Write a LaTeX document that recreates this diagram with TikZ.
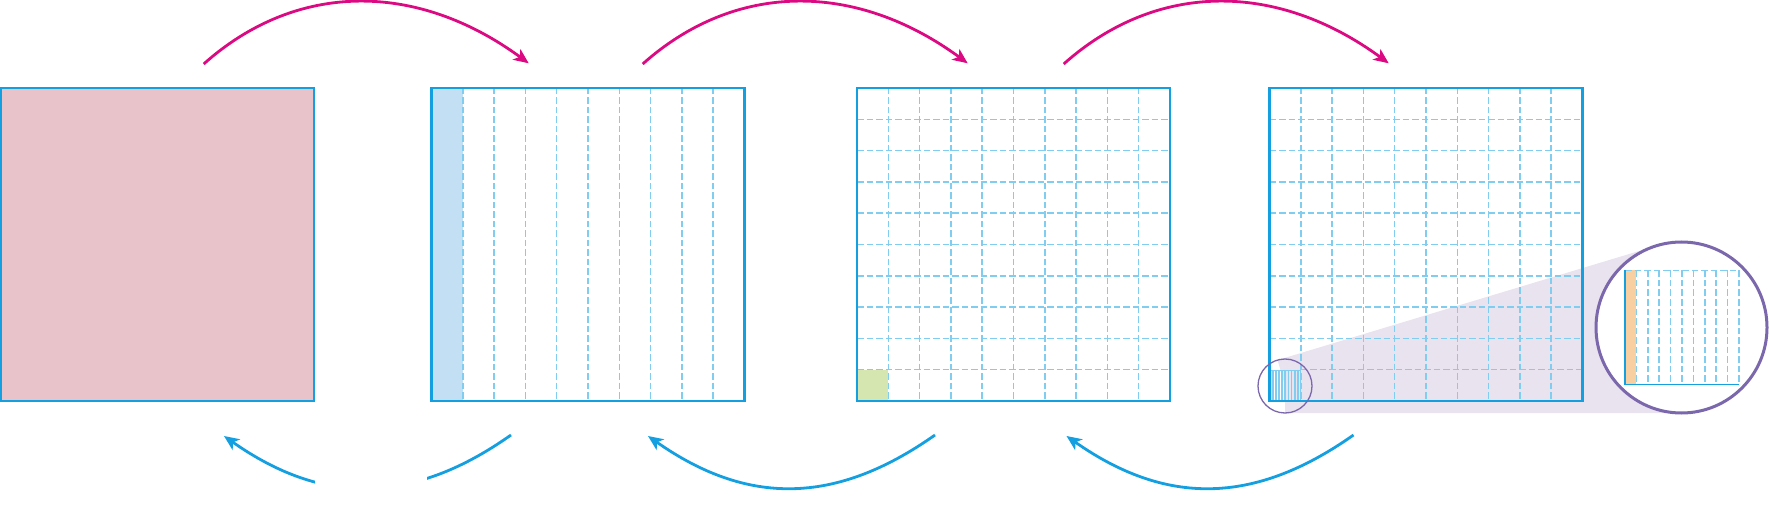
\documentclass[tikz,border=0pt]{standalone}
\usetikzlibrary{arrows.meta}
\definecolor{sqblue}{HTML}{139FE0}
\definecolor{dashblue}{HTML}{80CDF0}
\definecolor{pinkfill}{HTML}{E8C3C9}
\definecolor{stripfill}{HTML}{C2DFF3}
\definecolor{greenfill}{HTML}{D6E6B0}
\definecolor{orangefill}{HTML}{F8CFA0}
\definecolor{lavender}{HTML}{E9E2EF}
\definecolor{lenspurple}{HTML}{7A67AC}
\definecolor{magentaarrow}{HTML}{DC0A82}
\begin{document}
\begin{tikzpicture}[x=1pt,y=-1pt,
  sqbox/.style={draw=sqblue, line width=2.2pt, minimum width=313pt, minimum height=313pt, inner sep=0pt, outer sep=0pt},
  dashline/.style={draw=dashblue, line width=1.5pt, dash pattern=on 6.5pt off 3pt},
  thinline/.style={draw=dashblue, line width=0.7pt},
  solidedge/.style={draw=sqblue, line width=1.8pt},
  toparrow/.style={draw=magentaarrow, line width=2.8pt, -{Stealth[length=15pt,width=13pt,inset=4pt]}},
  botarrow/.style={draw=sqblue, line width=2.8pt, -{Stealth[length=15pt,width=13pt,inset=4pt]}},
  botline/.style={draw=sqblue, line width=2.8pt},
  bigcirc/.style={circle, draw=lenspurple, line width=3pt, fill=white, minimum size=171pt, inner sep=0pt, outer sep=0pt},
  smallcirc/.style={circle, draw=lenspurple, line width=1.3pt, minimum size=54pt, inner sep=0pt, outer sep=0pt}
]
\useasboundingbox (0,0) rectangle (1769,521);

% ---- square 1 ----
\node[sqbox, fill=pinkfill] (sq1) at (157.5,244.5) {};

% ---- square 2 ----
\fill[stripfill] (431.5,88) rectangle (462.8,401);
\begin{scope}[shift={(431.5,88)}]
  \foreach \k in {1,...,9} \draw[dashline] (\k*31.3,0) -- (\k*31.3,313);
\end{scope}
\node[sqbox] (sq2) at (588,244.5) {};

% ---- square 3 ----
\fill[greenfill] (857,369.7) rectangle (888.3,401);
\begin{scope}[shift={(857,88)}]
  \foreach \k in {1,...,9} {
    \draw[dashline] (\k*31.3,0) -- (\k*31.3,313);
    \draw[dashline] (0,\k*31.3) -- (313,\k*31.3);
  }
\end{scope}
\node[sqbox] (sq3) at (1013.5,244.5) {};

% ---- magnifier geometry ----
\node[smallcirc, draw=none] (lens) at (1285,386) {};
\node[bigcirc, draw=none, fill=none] (mag) at (1681.5,327.5) {};
\fill[lavender] (lens.106.85) -- (mag.106.85) -- (mag.center) -- (mag.south) -- (lens.south) -- (lens.center) -- cycle;

% ---- square 4 ----
\begin{scope}[shift={(1269.5,88)}]
  \foreach \k in {1,...,9} {
    \draw[dashline] (\k*31.3,0) -- (\k*31.3,313);
    \draw[dashline] (\ifnum\k=9 31.3\else 0\fi,\k*31.3) -- (313,\k*31.3);
  }
  % tiny cell, bottom-left
  \fill[orangefill] (0,281.7) rectangle (3.13,313);
  \foreach \k in {1,...,10}
    \draw[thinline] (\k*3.13-2.8,313) -- (\k*3.13-2.8,282.2) -- (\k*3.13-0.4,282.2) -- (\k*3.13-0.4,313);
\end{scope}
\node[sqbox] (sq4) at (1426,244.5) {};
\node[smallcirc] (lensring) at (1285,386) {};

% ---- magnified view ----
\node[bigcirc] (magring) at (1681.5,327.5) {};
\fill[orangefill] (1625,270.5) rectangle (1636.4,384.5);
\foreach \k in {1,...,10} \draw[dashline] (1625+\k*11.4,270.5) -- (1625+\k*11.4,384.5);
\draw[dashline] (1625,270.5) -- (1739,270.5);
\draw[solidedge] (1625,270.5) -- (1625,384.5) -- (1739,384.5);

% ---- top arrows ----
\coordinate (t1s) at (203.7,64);  \coordinate (t1e) at (528.7,63.3);
\coordinate (t2s) at (642.7,64);  \coordinate (t2e) at (967.7,63.3);
\coordinate (t3s) at (1063.7,64); \coordinate (t3e) at (1388.7,63.3);
\draw[toparrow] (t1s) .. controls +(92.7,-82.8) and +(-112,-82) .. (t1e);
\draw[toparrow] (t2s) .. controls +(92.7,-82.8) and +(-112,-82) .. (t2e);
\draw[toparrow] (t3s) .. controls +(92.7,-82.8) and +(-112,-82) .. (t3e);

% ---- bottom arrows ----
\coordinate (b1s) at (511,435);    \coordinate (b1e) at (224,436);
\coordinate (b2s) at (935,435);    \coordinate (b2e) at (648,436);
\coordinate (b3s) at (1353.5,435); \coordinate (b3e) at (1066.5,436);
\begin{scope}
  \clip (427,420) rectangle (540,521);
  \draw[botline] (b1s) .. controls +(-100,70.5) and +(99,69.5) .. (b1e);
\end{scope}
\begin{scope}
  \clip (190,420) rectangle (315,521);
  \draw[botarrow] (b1s) .. controls +(-100,70.5) and +(99,69.5) .. (b1e);
\end{scope}
\draw[botarrow] (b2s) .. controls +(-100,70.5) and +(99,69.5) .. (b2e);
\draw[botarrow] (b3s) .. controls +(-100,70.5) and +(99,69.5) .. (b3e);
\end{tikzpicture}
\end{document}
